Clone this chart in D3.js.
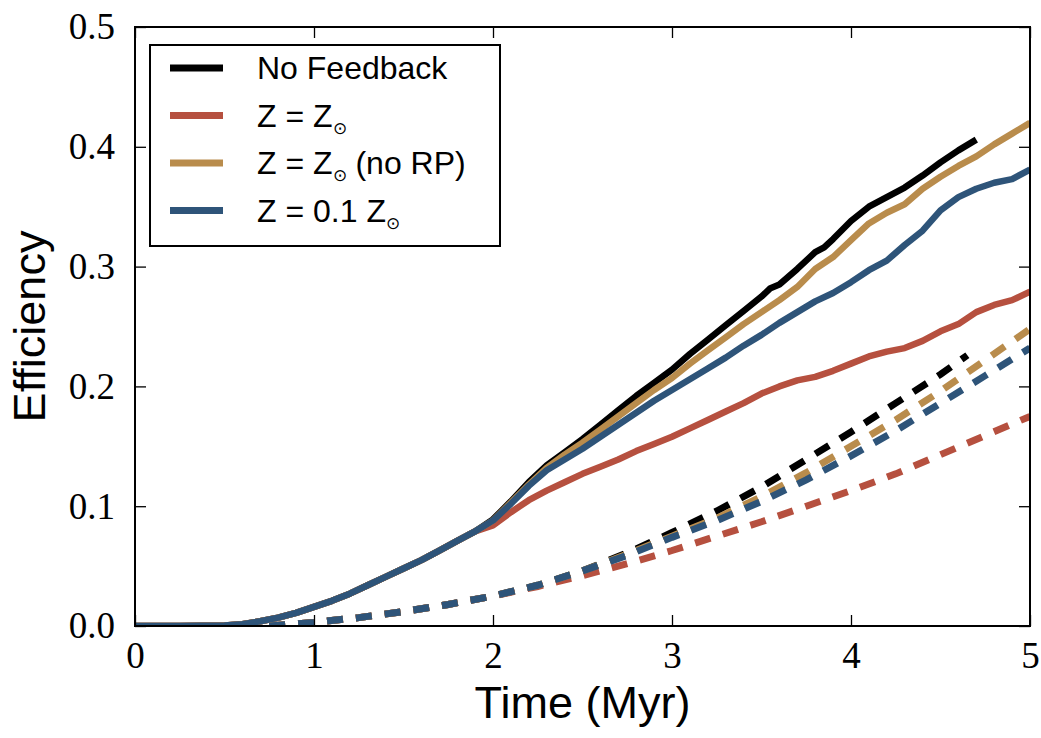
<!DOCTYPE html>
<html>
<head>
<meta charset="utf-8">
<script src="https://cdn.jsdelivr.net/npm/d3@7"></script>
<style>
  body { margin: 0; background: #fff; }
  .tick text { font-family: "Liberation Serif", "DejaVu Serif", serif; }
</style>
</head>
<body>
<div id="chart"></div>
<script>
// x tick labels and y tick labels
var xTicks = [0, 1, 2, 3, 4, 5];
var yTicks = [0.0, 0.1, 0.2, 0.3, 0.4, 0.5];

// early rise, shared by all solid runs
var early = [
  [0, 0], [0.25, 0], [0.5, 0.0005], [0.6, 0.0015], [0.7, 0.004], [0.8, 0.007],
  [0.9, 0.011], [1.0, 0.016], [1.1, 0.021], [1.2, 0.027], [1.3, 0.034],
  [1.4, 0.041], [1.5, 0.048], [1.6, 0.055], [1.7, 0.063], [1.8, 0.071],
  [1.9, 0.079]
];

// solid lines: total efficiency
var noFeedback = early.concat([
  [2.0, 0.089], [2.1, 0.104], [2.2, 0.12], [2.3, 0.134], [2.4, 0.145],
  [2.5, 0.156], [2.6, 0.168], [2.7, 0.18], [2.8, 0.192], [2.9, 0.203],
  [3.0, 0.214], [3.1, 0.227], [3.2, 0.239], [3.3, 0.251], [3.4, 0.263],
  [3.5, 0.275], [3.55, 0.282], [3.6, 0.285], [3.7, 0.298], [3.8, 0.312],
  [3.85, 0.316], [3.9, 0.323], [4.0, 0.338], [4.1, 0.35], [4.15, 0.354],
  [4.2, 0.358], [4.3, 0.366], [4.4, 0.376], [4.5, 0.387], [4.6, 0.397],
  [4.7, 0.406]
]);

var zSun = early.concat([
  [2.0, 0.084], [2.1, 0.095], [2.2, 0.105], [2.3, 0.113], [2.4, 0.12],
  [2.5, 0.127], [2.6, 0.133], [2.7, 0.139], [2.8, 0.146], [2.9, 0.152],
  [3.0, 0.158], [3.1, 0.165], [3.2, 0.172], [3.3, 0.179], [3.4, 0.186],
  [3.5, 0.194], [3.6, 0.2], [3.7, 0.205], [3.8, 0.208], [3.9, 0.213],
  [4.0, 0.219], [4.1, 0.225], [4.2, 0.229], [4.3, 0.232], [4.4, 0.238],
  [4.5, 0.246], [4.6, 0.252], [4.7, 0.262], [4.8, 0.268], [4.9, 0.272],
  [5.0, 0.279]
]);

var zSunNoRP = early.concat([
  [2.0, 0.088], [2.1, 0.103], [2.2, 0.118], [2.3, 0.132], [2.4, 0.143],
  [2.5, 0.153], [2.6, 0.164], [2.7, 0.175], [2.8, 0.186], [2.9, 0.197],
  [3.0, 0.207], [3.1, 0.219], [3.2, 0.23], [3.3, 0.241], [3.4, 0.252],
  [3.5, 0.262], [3.6, 0.272], [3.7, 0.283], [3.8, 0.298], [3.9, 0.308],
  [4.0, 0.322], [4.1, 0.336], [4.2, 0.345], [4.3, 0.352], [4.4, 0.365],
  [4.5, 0.375], [4.6, 0.384], [4.7, 0.392], [4.8, 0.402], [4.9, 0.411],
  [5.0, 0.42]
]);

var zTenth = early.concat([
  [2.0, 0.088], [2.1, 0.102], [2.2, 0.117], [2.3, 0.13], [2.4, 0.139],
  [2.5, 0.148], [2.6, 0.158], [2.7, 0.168], [2.8, 0.178], [2.9, 0.188],
  [3.0, 0.197], [3.1, 0.206], [3.2, 0.215], [3.3, 0.224], [3.4, 0.234],
  [3.5, 0.243], [3.6, 0.253], [3.7, 0.262], [3.8, 0.271], [3.9, 0.278],
  [4.0, 0.287], [4.1, 0.297], [4.2, 0.305], [4.3, 0.318], [4.4, 0.33],
  [4.5, 0.347], [4.6, 0.358], [4.7, 0.365], [4.8, 0.37], [4.9, 0.373],
  [5.0, 0.381]
]);

// dashed lines
var dashNoFeedback = [
  [0.75, 0], [1.0, 0.003], [1.25, 0.007], [1.5, 0.012], [1.75, 0.018],
  [2.0, 0.025], [2.25, 0.034], [2.5, 0.046], [2.75, 0.061], [3.0, 0.078],
  [3.25, 0.096], [3.5, 0.116], [3.75, 0.139], [4.0, 0.162], [4.25, 0.186],
  [4.5, 0.21], [4.65, 0.226]
];
var dashZSun = [
  [0.75, 0], [1.0, 0.003], [1.25, 0.007], [1.5, 0.012], [1.75, 0.018],
  [2.0, 0.025], [2.25, 0.033], [2.5, 0.042], [2.75, 0.052], [3.0, 0.063],
  [3.25, 0.075], [3.5, 0.087], [3.75, 0.1], [4.0, 0.113], [4.25, 0.127],
  [4.5, 0.143], [4.75, 0.159], [5.0, 0.175]
];
var dashZSunNoRP = [
  [0.75, 0], [1.0, 0.003], [1.25, 0.007], [1.5, 0.012], [1.75, 0.018],
  [2.0, 0.025], [2.25, 0.034], [2.5, 0.046], [2.75, 0.06], [3.0, 0.075],
  [3.25, 0.09], [3.5, 0.108], [3.75, 0.128], [4.0, 0.15], [4.25, 0.172],
  [4.5, 0.196], [4.75, 0.222], [5.0, 0.248]
];
var dashZTenth = [
  [0.75, 0], [1.0, 0.003], [1.25, 0.007], [1.5, 0.012], [1.75, 0.018],
  [2.0, 0.025], [2.25, 0.034], [2.5, 0.046], [2.75, 0.059], [3.0, 0.074],
  [3.25, 0.088], [3.5, 0.104], [3.75, 0.122], [4.0, 0.142], [4.25, 0.163],
  [4.5, 0.186], [4.75, 0.209], [5.0, 0.232]
];

var labels = ["No Feedback", "Z = Z\u2299", "Z = Z\u2299 (no RP)", "Z = 0.1 Z\u2299"];
var colors = ["#000000", "#b6503f", "#b98c4c", "#2e5479"];

// 画布
var margin = {top: 27, right: 11, bottom: 112, left: 135};
var W = 1041, H = 738;
var width = W - margin.left - margin.right;
var height = H - margin.top - margin.bottom;

var svg = d3.select("#chart")
    .append("svg")
    .attr("width", W)
    .attr("height", H)
    .append("g")
    .attr("transform", "translate(" + margin.left + "," + margin.top + ")");

var xScale = d3.scaleLinear().domain([0, 5]).range([0, width]);
var yScale = d3.scaleLinear().domain([0, 0.5]).range([height, 0]);

svg.append("clipPath").attr("id", "clip")
    .append("rect").attr("width", width).attr("height", height);

var line = d3.line()
    .x(function(d) { return xScale(d[0]); })
    .y(function(d) { return yScale(d[1]); });

var plot = svg.append("g").attr("clip-path", "url(#clip)");

// same drawing order for both: black, red, gold, blue (blue ends on top)
var solid = [noFeedback, zSun, zSunNoRP, zTenth];
var dashed = [dashNoFeedback, dashZSun, dashZSunNoRP, dashZTenth];

solid.forEach(function(s, i) {
  plot.append("path")
      .datum(s)
      .attr("fill", "none")
      .attr("stroke", colors[i])
      .attr("stroke-width", 6.5)
      .attr("stroke-linejoin", "round")
      .attr("d", line);
});

dashed.forEach(function(s, i) {
  plot.append("path")
      .datum(s)
      .attr("fill", "none")
      .attr("stroke", colors[i])
      .attr("stroke-width", 7)
      .attr("stroke-dasharray", "16,13")
      .attr("d", line);
});

// axes, ticks inward on all four sides
var tickLen = 11;
function styleAxis(g) {
  g.select(".domain").remove();
  g.selectAll(".tick line").attr("stroke", "#000").attr("stroke-width", 1.3);
}

svg.append("g")
    .attr("transform", "translate(0," + height + ")")
    .call(d3.axisBottom(xScale).tickValues(xTicks).tickSize(-tickLen).tickPadding(16)
      .tickFormat(d3.format("d")))
    .call(styleAxis)
    .selectAll("text").attr("font-size", 37).attr("fill", "#000");

svg.append("g")
    .call(d3.axisTop(xScale).tickValues(xTicks).tickSize(-tickLen).tickFormat(""))
    .call(styleAxis);

svg.append("g")
    .call(d3.axisLeft(yScale).tickValues(yTicks).tickSize(-tickLen).tickPadding(20)
      .tickFormat(d3.format(".1f")))
    .call(styleAxis)
    .selectAll("text").attr("font-size", 37).attr("fill", "#000");

svg.append("g")
    .attr("transform", "translate(" + width + ",0)")
    .call(d3.axisRight(yScale).tickValues(yTicks).tickSize(-tickLen).tickFormat(""))
    .call(styleAxis);

svg.append("rect")
    .attr("width", width).attr("height", height)
    .attr("fill", "none").attr("stroke", "#000").attr("stroke-width", 2);

// axis labels
svg.append("text")
    .attr("x", width / 2).attr("y", height + 92)
    .attr("text-anchor", "middle")
    .attr("font-family", "Liberation Sans, Arial, sans-serif")
    .attr("font-size", 45)
    .text("Time (Myr)");

svg.append("text")
    .attr("transform", "translate(-90," + (height / 2) + ") rotate(-90)")
    .attr("text-anchor", "middle")
    .attr("font-family", "Liberation Sans, Arial, sans-serif")
    .attr("font-size", 45)
    .text("Efficiency");

// legend
var legend = svg.append("g").attr("transform", "translate(15,18)");
legend.append("rect")
    .attr("width", 350).attr("height", 201)
    .attr("fill", "#fff").attr("stroke", "#000").attr("stroke-width", 2);

labels.forEach(function(lab, i) {
  var y = 23 + i * 47.5;
  legend.append("line")
      .attr("x1", 20).attr("x2", 73).attr("y1", y).attr("y2", y)
      .attr("stroke", colors[i]).attr("stroke-width", 7);
  var t = legend.append("text")
      .attr("x", 107).attr("y", y + 11)
      .attr("font-family", "Liberation Sans, Arial, sans-serif")
      .attr("font-size", 32);
  var parts = lab.split("\u2299");
  if (parts.length === 1) {
    t.text(lab);
  } else {
    t.append("tspan").text(parts[0]);
    t.append("tspan").attr("font-size", 17).attr("dy", 7).text("\u2299");
    t.append("tspan").attr("dy", -7).text(parts[1]);
  }
});
</script>
</body>
</html>
